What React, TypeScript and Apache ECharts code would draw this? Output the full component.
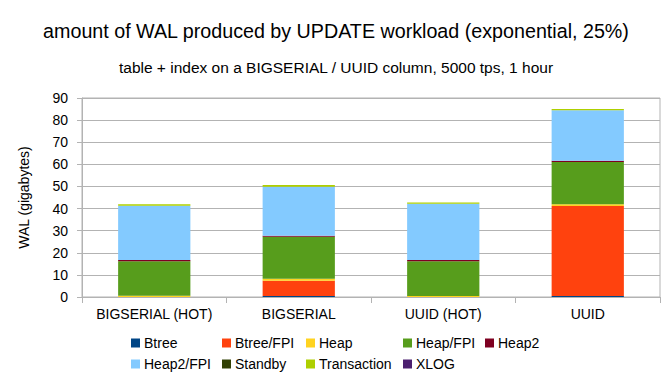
import React, { useEffect, useRef } from "react";
import * as echarts from "echarts";

const categories = ["BIGSERIAL (HOT)", "BIGSERIAL", "UUID (HOT)", "UUID"];
const seriesNames = ["Btree", "Btree/FPI", "Heap", "Heap/FPI", "Heap2", "Heap2/FPI", "Standby", "Transaction", "XLOG"];
const btree = [0, 0.5, 0, 0.5];
const btreeFpi = [0, 6.9, 0, 40.7];
const heap = [0.6, 0.9, 0.5, 0.7];
const heapFpi = [15.6, 19.0, 15.7, 19.1];
const heap2 = [0.5, 0.4, 0.5, 0.6];
const heap2Fpi = [24.6, 22.2, 25.5, 22.9];
const standby = [0, 0, 0, 0];
const transaction = [0.7, 0.8, 0.5, 0.5];
const xlog = [0, 0, 0, 0];
const seriesValues = [btree, btreeFpi, heap, heapFpi, heap2, heap2Fpi, standby, transaction, xlog];
const colors = ["#004586", "#ff420e", "#ffd320", "#579d1c", "#7e0021", "#83caff", "#314004", "#aecf00", "#4b1f6f"];
const yTicks = { min: 0, max: 90, interval: 10 };

const FONT = "Liberation Sans";
// legend grid layout: [column x, row y]
const legendCols = [131, 222, 306, 403, 485];
const legendRows = [336, 357];

export default function App() {
  const ref = useRef<HTMLDivElement>(null);
  useEffect(() => {
    const chart = echarts.init(ref.current!, null, { renderer: "svg" });
    const legends = seriesNames.map((name, i) => ({
      show: true,
      data: [name],
      left: legendCols[i % 5],
      top: legendRows[Math.floor(i / 5)],
      padding: 0,
      itemWidth: 9,
      itemHeight: 9,
      icon: "rect",
      itemGap: 0,
      textStyle: { fontFamily: FONT, fontSize: 14, color: "#000", padding: [0, 0, 0, -1] },
    }));
    chart.setOption({
      animation: false,
      color: colors,
      textStyle: { fontFamily: FONT },
      title: [
        {
          text: "amount of WAL produced by UPDATE workload (exponential, 25%)",
          left: "center",
          top: 16,
          textStyle: { fontFamily: FONT, fontSize: 19.7, fontWeight: "normal", color: "#000" },
        },
        {
          text: "table + index on a BIGSERIAL / UUID column, 5000 tps, 1 hour",
          left: "center",
          top: 54,
          textStyle: { fontFamily: FONT, fontSize: 15.5, fontWeight: "normal", color: "#000" },
        },
      ],
      legend: legends,
      grid: {
        left: 82,
        right: 12,
        top: 98,
        bottom: 87,
        show: true,
        borderColor: "#b3b3b3",
        borderWidth: 1,
      },
      xAxis: {
        type: "category",
        data: categories,
        axisLine: { lineStyle: { color: "#b3b3b3" } },
        axisTick: { show: true, interval: 0, length: 6, lineStyle: { color: "#b3b3b3" } },
        axisLabel: { interval: 0, color: "#000", fontSize: 14, fontFamily: FONT, margin: 10 },
      },
      yAxis: {
        type: "value",
        min: yTicks.min,
        max: yTicks.max,
        interval: yTicks.interval,
        name: "WAL (gigabytes)",
        nameLocation: "middle",
        nameGap: 51,
        nameTextStyle: { color: "#000", fontSize: 14, fontFamily: FONT },
        axisLine: { show: true, lineStyle: { color: "#b3b3b3" } },
        axisTick: { show: true, length: 5, lineStyle: { color: "#b3b3b3" } },
        axisLabel: { color: "#000", fontSize: 14, fontFamily: FONT, margin: 14 },
        splitLine: { lineStyle: { color: "#b3b3b3" } },
      },
      series: seriesNames.map((name, i) => ({
        name,
        type: "bar",
        stack: "total",
        barWidth: "50%",
        data: seriesValues[i],
        itemStyle: { color: colors[i] },
      })),
    });
    return () => chart.dispose();
  }, []);
  return (
    <div
      ref={ref}
      style={{ position: "fixed", left: 0, top: 0, width: 672, height: 384, background: "#fff" }}
    />
  );
}
